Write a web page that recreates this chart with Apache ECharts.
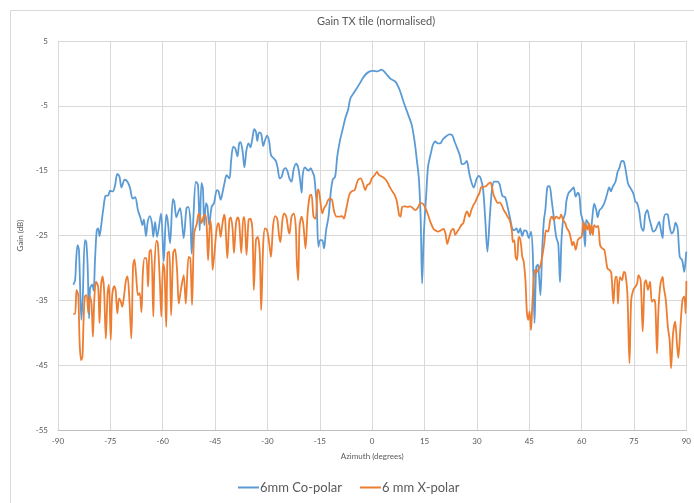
<!DOCTYPE html>
<html>
<head>
<meta charset="utf-8">
<script src="https://cdn.jsdelivr.net/npm/echarts@6/dist/echarts.min.js"></script>
<style>
  html, body { margin: 0; padding: 0; background: #ffffff; }
  #chart { width: 694px; height: 503px; }
</style>
</head>
<body>
<div id="chart"></div>
<script>
// Azimuth sweep of the TX tile, gain normalised to the main-beam peak (dB)
const coAz = [
  -85.6,-85.1,-84.8,-84.4,-84.0,-83.3,-82.9,-82.3,-81.9,-81.5,-81.1,-80.8,-80.2,-79.8,-79.4,-78.9,-78.5,-78.1,-77.5,-77.0,
  -76.4,-75.6,-75.1,-74.3,-73.7,-73.0,-72.4,-71.8,-70.9,-70.1,-69.4,-68.6,-67.9,-67.1,-66.3,-65.8,-65.4,-64.8,-64.3,-63.7,
  -63.1,-62.7,-62.2,-61.6,-60.5,-59.7,-59.0,-58.6,-57.9,-57.1,-56.7,-56.1,-55.5,-55.0,-54.0,-53.2,-52.7,-52.1,-51.7,-51.2,
  -50.5,-49.9,-49.4,-48.9,-48.5,-48.1,-47.6,-47.2,-46.7,-46.0,-45.3,-44.5,-44.0,-43.4,-42.8,-42.3,-41.7,-40.9,-40.4,-39.8,
  -39.2,-38.6,-38.1,-37.7,-37.1,-36.6,-36.0,-35.4,-34.9,-34.3,-33.8,-33.3,-32.9,-32.4,-31.8,-31.2,-30.7,-30.1,-29.5,-29.0,
  -28.2,-27.6,-27.1,-26.5,-25.9,-25.4,-24.8,-24.2,-23.7,-23.1,-22.5,-21.8,-21.2,-20.6,-20.2,-19.9,-19.3,-18.7,-18.2,-17.6,
  -17.0,-16.6,-16.2,-15.9,-15.4,-14.9,-14.3,-13.8,-13.2,-12.5,-11.9,-11.3,-10.6,-10.0,-9.2,-8.4,-7.7,-6.9,-6.2,-5.0,
  -3.5,-2.4,-1.1,0.3,1.4,2.7,3.9,5.2,6.7,7.9,9.0,10.2,11.3,12.1,12.8,13.4,13.9,14.3,14.8,15.5,
  16.0,16.9,17.4,18.1,18.8,19.5,20.2,21.2,22.1,22.9,23.6,24.4,25.2,25.7,26.5,27.1,27.8,28.4,29.1,29.9,
  30.5,31.1,31.8,32.4,33.0,33.7,34.3,34.9,35.9,36.5,37.3,38.1,38.8,39.6,40.1,40.7,41.3,41.9,42.4,43.0,
  43.6,44.2,44.9,45.5,46.0,46.5,47.0,47.5,47.8,48.2,48.7,49.2,49.6,50.2,50.8,51.4,52.0,52.7,53.3,53.8,
  54.2,54.7,55.3,55.6,56.2,57.0,57.7,58.3,58.9,59.4,59.8,60.4,61.0,61.3,61.9,62.5,63.0,63.6,64.2,64.6,
  65.1,65.7,66.5,67.2,67.9,68.4,68.9,69.7,70.3,70.8,71.5,72.1,72.7,73.3,74.0,74.8,75.4,75.9,76.5,77.1,
  77.7,78.2,78.8,79.4,79.9,80.5,81.1,81.6,82.2,82.7,83.2,83.5,84.1,84.7,85.2,85.8,86.4,86.9,87.5,88.1,
  88.8,89.4,89.9,90.0
];
const coGain = [
  -32.6,-31.9,-28.8,-26.5,-27.2,-38.0,-34.4,-25.7,-26.0,-29.8,-37.8,-33.1,-32.6,-33.5,-28.8,-24.2,-23.9,-25.1,-22.9,-20.8,
  -18.9,-18.8,-18.1,-18.2,-17.4,-15.5,-15.9,-17.6,-16.4,-16.7,-17.6,-19.3,-19.1,-21.1,-22.4,-23.4,-22.5,-25.1,-22.9,-22.0,
  -23.1,-25.2,-22.9,-25.2,-21.6,-29.0,-21.8,-22.6,-26.2,-19.4,-19.8,-22.2,-21.3,-20.8,-25.4,-20.8,-20.6,-22.6,-27.8,-22.1,
  -16.7,-17.2,-24.2,-16.9,-17.7,-23.4,-20.0,-20.5,-23.4,-20.6,-20.0,-18.0,-18.2,-19.5,-18.2,-16.9,-15.7,-16.2,-13.4,-11.3,
  -11.6,-12.8,-10.8,-10.6,-12.1,-14.5,-11.8,-10.8,-11.4,-10.0,-8.6,-9.0,-10.4,-9.1,-9.3,-11.2,-10.3,-9.6,-10.5,-12.6,
  -13.1,-13.5,-14.5,-16.2,-15.9,-14.9,-14.6,-15.2,-16.2,-16.7,-14.8,-13.9,-14.5,-16.7,-18.4,-15.7,-14.5,-14.8,-15.0,-14.6,
  -15.3,-15.9,-18.2,-20.0,-26.7,-25.7,-25.7,-27.0,-24.2,-22.1,-18.5,-16.4,-15.9,-12.8,-10.3,-8.5,-6.9,-5.6,-3.8,-2.8,
  -1.5,-0.5,0.2,0.4,0.3,0.6,0.0,-0.8,-1.3,-2.6,-4.4,-6.2,-7.9,-10.3,-13.4,-16.4,-22.6,-32.4,-24.7,-18.5,
  -14.4,-12.1,-11.0,-10.5,-10.8,-10.8,-10.2,-9.7,-9.4,-9.5,-10.5,-11.6,-12.8,-14.0,-13.9,-13.5,-15.4,-16.7,-17.6,-16.3,
  -15.8,-16.2,-18.0,-22.6,-27.5,-22.1,-18.0,-16.7,-16.7,-17.1,-18.9,-19.1,-20.6,-22.6,-23.9,-24.2,-23.9,-24.6,-23.9,-25.1,
  -24.2,-24.3,-25.4,-24.4,-27.7,-38.5,-29.8,-29.5,-31.3,-34.2,-27.2,-22.6,-21.1,-17.5,-17.4,-19.5,-22.1,-25.2,-26.3,-32.2,
  -26.0,-22.6,-21.6,-19.8,-18.5,-18.0,-17.6,-19.0,-18.4,-19.0,-21.6,-22.9,-26.7,-22.6,-23.1,-24.9,-22.6,-20.1,-21.1,-22.2,
  -21.1,-20.8,-20.0,-18.8,-17.6,-18.2,-17.5,-16.7,-15.2,-14.6,-13.5,-13.6,-15.2,-17.0,-17.7,-18.5,-19.8,-20.0,-21.3,-23.7,
  -24.3,-21.8,-21.1,-22.4,-23.4,-24.4,-24.2,-23.6,-22.9,-24.2,-25.4,-22.6,-21.7,-21.8,-23.6,-24.7,-24.2,-23.0,-23.9,-28.3,
  -28.8,-30.6,-28.0,-27.5
];

const xpAz = [
  -85.6,-85.1,-84.7,-84.2,-83.8,-83.4,-83.0,-82.7,-82.3,-81.8,-81.3,-80.9,-80.4,-80.0,-79.6,-79.1,-78.5,-78.1,-77.7,-77.2,
  -76.8,-76.3,-75.8,-75.4,-74.9,-74.5,-73.9,-73.5,-73.0,-72.5,-72.0,-71.6,-71.1,-70.6,-70.1,-69.6,-69.0,-68.5,-68.1,-67.6,
  -67.1,-66.6,-66.1,-65.7,-65.2,-64.7,-64.2,-63.8,-63.3,-62.7,-62.4,-61.8,-61.4,-60.8,-60.4,-59.9,-59.5,-59.0,-58.6,-58.1,
  -57.6,-57.0,-56.5,-55.9,-55.4,-54.8,-54.0,-53.4,-52.6,-52.1,-51.6,-51.0,-50.2,-49.7,-49.3,-48.9,-48.3,-47.8,-47.4,-47.0,
  -46.4,-46.0,-45.7,-45.1,-44.6,-44.1,-43.8,-43.4,-43.0,-42.4,-42.1,-41.5,-40.9,-40.5,-40.0,-39.6,-39.0,-38.5,-38.1,-37.5,
  -36.9,-36.6,-36.0,-35.4,-34.9,-34.3,-33.9,-33.3,-32.8,-32.2,-31.8,-31.2,-30.7,-30.1,-29.5,-29.0,-28.4,-27.8,-27.2,-26.7,
  -26.3,-25.7,-25.2,-24.6,-24.0,-23.7,-23.1,-22.5,-21.9,-21.6,-21.2,-20.8,-20.2,-19.7,-19.1,-18.5,-17.9,-17.4,-16.8,-16.2,
  -15.7,-15.4,-14.9,-14.3,-13.8,-13.2,-12.6,-12.1,-11.5,-10.9,-10.2,-9.4,-8.6,-8.1,-7.5,-6.9,-6.4,-5.6,-5.0,-4.5,
  -4.0,-3.3,-2.6,-2.0,-1.4,-0.7,-0.1,0.7,1.4,2.0,2.7,3.5,4.3,5.0,5.8,6.5,7.1,7.7,8.1,8.6,
  9.4,10.2,10.9,11.7,12.4,13.2,13.8,14.5,15.3,16.0,16.8,17.6,18.1,18.9,19.7,20.4,21.0,21.5,22.1,22.7,
  23.3,23.8,24.4,25.0,25.5,26.1,26.7,27.2,27.8,28.4,29.0,29.5,30.1,30.7,31.2,31.8,32.6,33.3,33.9,34.3,
  34.8,35.4,36.0,36.5,37.1,37.7,38.3,38.8,39.4,40.0,40.3,40.7,41.1,41.5,41.9,42.2,42.6,43.0,43.4,43.9,
  44.3,44.7,45.1,45.5,45.8,46.2,46.6,47.0,47.6,48.1,48.7,49.3,49.8,50.4,51.0,51.5,52.1,52.7,53.6,54.1,
  54.7,55.3,55.8,56.4,57.0,57.3,57.7,58.3,58.9,59.4,60.0,60.6,61.0,61.3,61.7,62.1,62.5,62.8,63.2,63.6,
  64.2,64.7,65.3,65.9,66.5,67.0,67.4,68.0,68.5,69.1,69.7,70.1,70.4,71.0,71.6,72.1,72.5,73.1,73.7,74.2,
  74.8,75.4,75.9,76.3,76.9,77.5,78.0,78.4,79.0,79.6,80.1,80.7,81.1,81.6,82.0,82.6,83.2,83.5,84.1,84.7,
  85.2,85.6,86.2,86.8,87.3,87.7,88.3,88.9,89.4,89.8,90.0
];
const xpGain = [
  -37.1,-37.1,-33.4,-34.2,-41.6,-44.2,-43.7,-38.5,-34.4,-34.2,-37.0,-34.4,-35.5,-40.6,-34.9,-32.1,-32.9,-38.5,-32.9,-31.3,
  -33.4,-40.9,-33.9,-32.6,-41.1,-34.4,-32.8,-33.4,-37.0,-34.7,-35.2,-36.0,-34.4,-32.1,-31.3,-34.4,-40.9,-29.8,-28.7,-31.3,
  -34.2,-33.9,-36.8,-30.8,-28.5,-28.5,-32.9,-27.5,-27.2,-37.5,-30.3,-25.8,-26.2,-32.4,-37.5,-29.3,-30.3,-39.1,-27.7,-27.5,
  -37.3,-27.7,-27.1,-30.3,-35.5,-33.4,-31.1,-35.5,-28.3,-28.5,-35.7,-24.7,-23.1,-21.6,-22.1,-23.1,-22.1,-21.8,-23.6,-28.8,
  -22.6,-24.7,-30.3,-27.2,-24.2,-23.1,-23.6,-25.2,-23.6,-21.8,-22.6,-28.5,-22.6,-22.2,-23.9,-27.7,-23.1,-22.2,-22.9,-27.7,
  -22.2,-22.2,-28.0,-22.6,-22.4,-24.2,-33.4,-25.7,-25.2,-27.7,-36.5,-26.2,-23.9,-24.2,-26.2,-28.3,-23.6,-22.0,-22.4,-24.9,
  -26.0,-22.6,-21.6,-22.1,-24.2,-24.7,-22.1,-21.6,-23.6,-28.8,-31.9,-23.6,-22.1,-23.4,-27.0,-21.6,-18.9,-18.7,-22.1,-22.4,
  -18.2,-17.9,-19.5,-21.6,-20.8,-20.3,-19.5,-19.3,-19.5,-21.3,-22.1,-22.1,-22.0,-22.4,-21.1,-19.5,-18.5,-18.1,-18.0,-17.1,
  -16.4,-16.2,-17.0,-18.0,-17.2,-17.0,-16.2,-15.7,-15.2,-15.7,-15.9,-16.2,-16.7,-17.5,-18.2,-18.8,-19.8,-21.8,-22.1,-20.6,
  -20.5,-20.6,-20.5,-20.8,-21.1,-20.6,-20.0,-20.1,-20.8,-21.8,-23.1,-24.0,-24.2,-24.4,-24.2,-24.0,-24.7,-26.3,-25.2,-24.2,
  -24.0,-24.9,-24.4,-23.9,-23.4,-23.1,-21.8,-21.3,-22.1,-21.1,-20.3,-19.9,-19.1,-18.5,-17.6,-17.5,-17.4,-17.0,-16.8,-17.5,
  -18.8,-19.5,-20.0,-19.9,-20.3,-21.1,-21.6,-22.1,-22.6,-24.2,-26.0,-25.7,-28.3,-28.8,-25.4,-25.2,-26.2,-28.3,-29.0,-31.9,
  -36.7,-38.0,-36.7,-39.6,-36.5,-32.4,-30.3,-30.7,-30.3,-29.8,-28.3,-26.2,-24.2,-24.4,-22.6,-22.1,-22.6,-22.1,-22.4,-21.8,
  -22.6,-23.1,-23.9,-24.4,-25.7,-26.5,-26.0,-27.2,-25.7,-25.4,-25.2,-22.9,-24.2,-23.4,-24.1,-23.1,-24.7,-23.4,-24.9,-23.4,
  -23.7,-23.5,-26.5,-27.0,-27.2,-28.8,-30.1,-30.3,-30.8,-35.5,-31.4,-31.4,-35.5,-31.4,-31.9,-30.6,-30.8,-33.9,-44.7,-34.9,
  -33.4,-32.9,-32.4,-31.1,-31.9,-39.8,-32.4,-31.9,-33.4,-32.1,-35.2,-34.9,-35.5,-43.2,-36.5,-32.4,-31.4,-32.9,-34.9,-39.1,
  -41.1,-45.5,-40.1,-38.3,-41.6,-43.9,-39.1,-34.9,-34.4,-37.0,-32.0
];

const xTicks = { min: -90, max: 90, step: 15 };
const yTicks = { min: -55, max: 5, step: 10 };
const seriesNames = ['6mm Co-polar', '6 mm X-polar'];

const pairs = (xs, ys) => xs.map((x, i) => [x, ys[i]]);
const textGrey = '#595959';
const font = 'Lato, "Liberation Sans", sans-serif';

const chart = echarts.init(document.getElementById('chart'), null, { renderer: 'canvas' });
chart.setOption({
  backgroundColor: '#ffffff',
  animation: false,
  graphic: [{
    type: 'rect',
    shape: { x: 10.5, y: 10.5, width: 700, height: 510 },
    style: { fill: 'none', stroke: '#d9d9d9', lineWidth: 1 },
    z: -1
  }],
  title: {
    text: 'Gain TX tile (normalised)',
    left: 371, top: 11, textAlign: 'center',
    textStyle: { fontFamily: font, fontSize: 11, fontWeight: 'normal', color: textGrey }
  },
  legend: {
    data: seriesNames,
    left: 233, top: 476,
    icon: 'rect', itemWidth: 21, itemHeight: 2, itemGap: 18,
    textStyle: { fontFamily: font, fontSize: 13, color: textGrey, padding: [0, 0, 0, -4] }
  },
  grid: { left: 58, right: 4, top: 41, bottom: 73, containLabel: false },
  xAxis: {
    type: 'value', min: xTicks.min, max: xTicks.max, interval: xTicks.step,
    name: 'Azimuth (degrees)', nameLocation: 'middle', nameGap: 22,
    nameTextStyle: { fontFamily: font, fontSize: 8, color: textGrey },
    axisLine: { show: true, onZero: false, lineStyle: { color: '#bfbfbf', width: 1 } },
    axisTick: { show: false },
    axisLabel: { fontFamily: font, fontSize: 8, color: textGrey, margin: 7 },
    splitLine: { show: true, lineStyle: { color: '#d9d9d9', width: 1 } }
  },
  yAxis: {
    type: 'value', min: yTicks.min, max: yTicks.max, interval: yTicks.step,
    name: 'Gain (dB)', nameLocation: 'middle', nameGap: 27, nameRotate: 90,
    nameTextStyle: { fontFamily: font, fontSize: 8, color: textGrey },
    axisLine: { show: true, lineStyle: { color: '#d9d9d9', width: 1 } },
    axisTick: { show: false },
    axisLabel: { fontFamily: font, fontSize: 8, color: textGrey, margin: 10 },
    splitLine: { show: true, lineStyle: { color: '#d9d9d9', width: 1 } }
  },
  series: [
    {
      name: seriesNames[0], type: 'line', data: pairs(coAz, coGain),
      symbol: 'none', smooth: 0.3, color: '#5b9bd5',
      lineStyle: { color: '#5b9bd5', width: 1.8, join: 'round' }, z: 3
    },
    {
      name: seriesNames[1], type: 'line', data: pairs(xpAz, xpGain),
      symbol: 'none', smooth: 0.3, color: '#ed7d31',
      lineStyle: { color: '#ed7d31', width: 1.8, join: 'round' }, z: 4
    }
  ]
});
</script>
</body>
</html>
